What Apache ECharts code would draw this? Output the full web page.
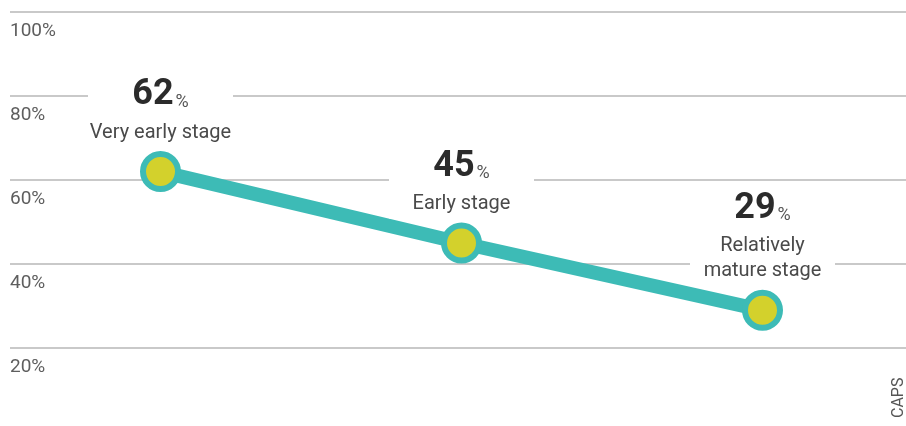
<!DOCTYPE html>
<html>
<head>
<meta charset="utf-8">
<script src="https://cdn.jsdelivr.net/npm/echarts@6/dist/echarts.min.js"></script>
<style>html,body{margin:0;padding:0;background:#fff;}#c{width:906px;height:426px;}</style>
</head>
<body>
<div id="c"></div>
<script>
const categories = ['Very early stage', 'Early stage', 'Relatively\nmature stage'];
const values = [62, 45, 29];
const yTicks = [20, 40, 60, 80, 100];
const sourceNote = 'CAPS';

const chart = echarts.init(document.getElementById('c'), null, {renderer: 'canvas'});
const font = 'Roboto, "DejaVu Sans", sans-serif';
chart.setOption({
  animation: false,
  backgroundColor: '#fff',
  grid: {left: 10, width: 903, top: 12, bottom: 78, outerBoundsMode: 'none', containLabel: false},
  xAxis: {
    type: 'category', data: categories, boundaryGap: true,
    axisLine: {show: false}, axisTick: {show: false}, axisLabel: {show: false}, splitLine: {show: false}
  },
  yAxis: {
    type: 'value', min: yTicks[0], max: yTicks[yTicks.length - 1], interval: 20,
    axisLine: {show: false}, axisTick: {show: false},
    splitLine: {lineStyle: {color: '#c9c9c9', width: 2}},
    axisLabel: {
      inside: true, margin: 0, verticalAlign: 'top', padding: [10, 0, 0, 0],
      color: '#5e5e5e', fontSize: 19, fontFamily: font,
      formatter: v => v + '%'
    }
  },
  series: [{
    type: 'line',
    data: values,
    symbol: 'circle', symbolSize: 35,
    lineStyle: {color: '#3dbbb6', width: 14},
    itemStyle: {color: '#d3d12c', borderColor: '#3dbbb6', borderWidth: 6},
    z: 3,
    label: {
      show: true, position: 'top', distance: 4,
      backgroundColor: '#fff', width: 145, align: 'center',
      padding: [0, 0, 2, 0],
      fontFamily: font,
      formatter: p => '{num|' + p.value + '}{pct|%}\n{txt|' + categories[p.dataIndex].split('\n').join('}\n{txt|') + '}',
      rich: {
        num: {fontSize: 36, fontWeight: 'bold', color: '#2b2b2b', lineHeight: 50, fontFamily: font},
        pct: {fontSize: 18, color: '#555', lineHeight: 50, verticalAlign: 'bottom', padding: [0, 0, 9, 2], fontFamily: font},
        txt: {fontSize: 20, color: '#4a4a4a', lineHeight: 25, align: 'center', fontFamily: font}
      }
    }
  }],
  graphic: [{
    type: 'text', x: 891, y: 418, rotation: Math.PI / 2,
    style: {text: sourceNote, fontSize: 16, fill: '#555', fontFamily: font, textVerticalAlign: 'top'}
  }]
});
</script>
</body>
</html>
